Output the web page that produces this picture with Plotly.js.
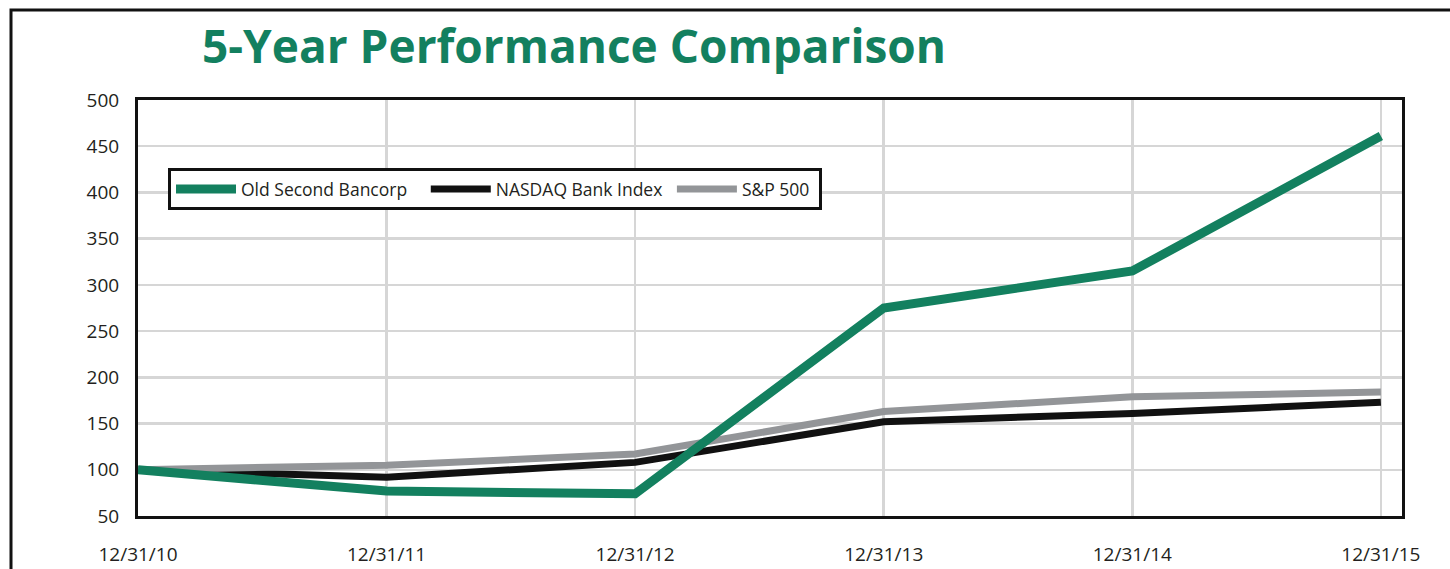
<!DOCTYPE html>
<html>
<head>
<meta charset="utf-8">
<script src="https://cdn.plot.ly/plotly-3.0.1.min.js"></script>
<style>
  html, body { margin: 0; padding: 0; background: #fff; }
  #chart { width: 1450px; height: 569px; }
</style>
</head>
<body>
<div id="chart"></div>
<script>
const dates = ['12/31/10', '12/31/11', '12/31/12', '12/31/13', '12/31/14', '12/31/15'];
const oldSecond = [100, 77, 74, 275, 315, 461];
const nasdaqBank = [100, 92, 108, 152, 161, 173];
const sp500 = [100, 105, 117, 163, 179, 184];
const seriesNames = ['Old Second Bancorp', 'NASDAQ Bank Index', 'S&P 500'];
const yTicks = [50, 100, 150, 200, 250, 300, 350, 400, 450, 500];

const xIdx = dates.map((d, i) => i);
const FONT = '"Open Sans", "Noto Sans", sans-serif';
const NB = '\u00a0';

const traces = [
  { x: xIdx, y: oldSecond, name: seriesNames[0] + NB + NB + NB, mode: 'lines',
    line: { color: '#13805f', width: 9 }, legendrank: 1 },
  { x: xIdx, y: nasdaqBank, name: seriesNames[1] + NB, mode: 'lines',
    line: { color: '#111111', width: 7 }, legendrank: 2 },
  { x: xIdx, y: sp500, name: seriesNames[2] + NB, mode: 'lines',
    line: { color: '#939598', width: 7 }, legendrank: 3 }
];
const ordered = [traces[1], traces[2], traces[0]];

const layout = {
  width: 1450, height: 569,
  margin: { l: 138, r: 48, t: 100, b: 53 },
  paper_bgcolor: '#ffffff', plot_bgcolor: '#ffffff',
  font: { family: FONT, color: '#231f20', size: 19 },
  title: {
    text: '<b>5-Year Performance Comparison</b>',
    font: { family: FONT, size: 46, color: '#13805f' },
    xref: 'container', yref: 'container',
    x: 202 / 1450, xanchor: 'left',
    y: 1 - 47 / 569, yanchor: 'middle'
  },
  xaxis: {
    range: [0, 5.085],
    tickvals: xIdx, ticktext: dates,
    showgrid: true, gridcolor: '#d6d6d6', gridwidth: 2.5,
    zeroline: false,
    showline: true, linecolor: '#111', linewidth: 3, mirror: true,
    ticks: '', ticklabelstandoff: 19,
    tickfont: { family: FONT, size: 19, color: '#231f20' },
    fixedrange: true
  },
  yaxis: {
    range: [50, 500],
    tickvals: yTicks,
    showgrid: true, gridcolor: '#d6d6d6', gridwidth: 2.5,
    zeroline: false,
    showline: true, linecolor: '#111', linewidth: 3, mirror: true,
    ticks: '', ticklabelstandoff: 12,
    tickfont: { family: FONT, size: 19, color: '#231f20' },
    fixedrange: true
  },
  legend: {
    orientation: 'h',
    x: (168 - 138) / 1264, xanchor: 'left',
    y: (516 - 168) / 416, yanchor: 'top',
    bgcolor: '#ffffff', bordercolor: '#111', borderwidth: 3,
    font: { family: FONT, size: 17.5, color: '#231f20' },
    itemwidth: 60,
    traceorder: 'normal'
  },
  showlegend: true,
  shapes: [
    { type: 'rect', xref: 'paper', yref: 'paper',
      x0: (11 - 138) / 1264, x1: (1470 - 138) / 1264,
      y0: -0.5, y1: (516 - 10) / 416,
      line: { color: '#111', width: 3 }, layer: 'below' }
  ]
};

Plotly.newPlot('chart', ordered, layout, { displayModeBar: false, staticPlot: true });
</script>
</body>
</html>
